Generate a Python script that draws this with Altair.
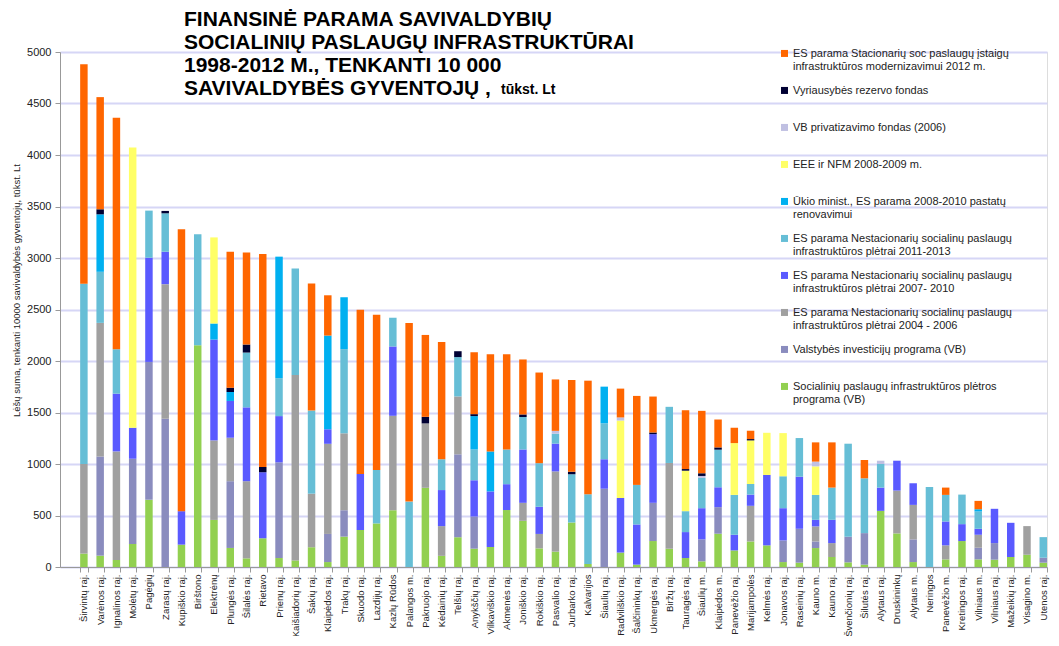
import altair as alt
import pandas as pd

municipalities = [
    "Širvintų raj.", "Varėnos raj.", "Ignalinos raj.", "Molėtų raj.", "Pagėgių", "Zarasų raj.",
    "Kupiškio raj.", "Birštono", "Elektrėnų", "Plungės raj.", "Šilalės raj.", "Rietavo",
    "Prienų raj.", "Kaišiadorių raj.", "Šakių raj.", "Klaipėdos raj.", "Trakų raj.", "Skuodo raj.",
    "Lazdijų raj.", "Kazlų Rūdos", "Palangos m.", "Pakruojo raj.", "Kėdainių raj.", "Telšių raj.",
    "Anykščių raj.", "Vilkaviškio raj.", "Akmenės raj.", "Joniškio raj.", "Rokiškio raj.", "Pasvalio raj.",
    "Jurbarko raj.", "Kalvarijos", "Šiaulių raj.", "Radviliškio raj.", "Šalčininkų raj.", "Ukmergės raj.",
    "Biržų raj.", "Tauragės raj.", "Šiaulių m.", "Klaipėdos m.", "Panevėžio raj.", "Marijampolės",
    "Kelmės raj.", "Jonavos raj.", "Raseinių raj.", "Kauno m.", "Kauno raj.", "Švenčionių raj.",
    "Šilutės raj.", "Alytaus raj.", "Druskininkų", "Alytaus m.", "Neringos", "Panevėžio m.",
    "Kretingos raj.", "Vilniaus m.", "Vilniaus raj.", "Mažeikių raj.", "Visagino m.", "Utenos raj.",
]

# series, bottom to top of each stack
green = [130, 110, 68, 224, 652, 0, 217, 2153, 457, 185, 84, 279, 87, 64, 192, 48, 295, 359, 423, 551,
         0, 769, 108, 289, 178, 194, 553, 448, 181, 149, 432, 29, 0, 140, 23, 252, 177, 87, 55, 323,
         161, 248, 210, 48, 42, 184, 97, 45, 23, 545, 326, 48, 0, 74, 252, 74, 71, 97, 119, 42]
slate = [0, 963, 0, 827, 1339, 1440, 0, 0, 0, 648, 0, 0, 929, 0, 0, 273, 256, 0, 0, 0,
         0, 0, 0, 805, 312, 0, 0, 0, 0, 0, 0, 0, 760, 0, 0, 371, 0, 0, 213, 258,
         0, 0, 0, 210, 329, 64, 0, 249, 306, 0, 0, 220, 0, 0, 0, 113, 161, 0, 0, 48]
gray = [870, 1297, 1054, 0, 0, 1306, 0, 0, 772, 422, 749, 0, 0, 1801, 520, 875, 747, 0, 0, 917,
        0, 625, 289, 562, 0, 0, 0, 175, 140, 779, 0, 0, 0, 0, 0, 0, 833, 0, 0, 0,
        0, 346, 0, 0, 0, 146, 135, 0, 0, 0, 416, 335, 0, 136, 0, 126, 0, 0, 278, 0]
blue = [0, 0, 561, 301, 1012, 315, 325, 0, 979, 357, 717, 641, 449, 0, 0, 141, 0, 545, 0, 673,
        0, 0, 350, 0, 352, 540, 251, 518, 264, 270, 0, 0, 286, 530, 390, 667, 0, 252, 303, 193,
        152, 109, 684, 313, 506, 64, 226, 0, 0, 226, 290, 210, 0, 232, 164, 58, 333, 332, 0, 0]
teal = [1750, 496, 431, 0, 457, 373, 0, 1077, 0, 0, 532, 0, 368, 1032, 807, 0, 817, 0, 519, 279,
        635, 0, 299, 382, 299, 0, 337, 315, 423, 96, 468, 677, 349, 0, 384, 0, 545, 203, 294, 365,
        387, 103, 0, 310, 375, 242, 313, 903, 532, 229, 0, 0, 777, 258, 287, 168, 0, 0, 0, 200]
cyan = [0, 558, 0, 0, 0, 0, 0, 0, 156, 87, 0, 0, 1180, 0, 0, 910, 504, 0, 0, 0,
        0, 0, 0, 0, 324, 388, 0, 0, 0, 0, 0, 0, 356, 0, 0, 0, 0, 0, 0, 0,
        0, 0, 0, 0, 0, 0, 0, 0, 0, 0, 0, 0, 0, 0, 0, 22, 0, 0, 0, 0]
yellow = [0, 0, 0, 2721, 0, 0, 0, 0, 836, 0, 0, 0, 0, 0, 0, 0, 0, 0, 0, 0,
          0, 0, 0, 0, 0, 0, 0, 0, 0, 0, 0, 0, 0, 752, 0, 0, 0, 393, 0, 0,
          503, 423, 409, 419, 0, 277, 0, 0, 0, 0, 0, 0, 0, 0, 0, 0, 0, 0, 0, 0]
lavender = [0, 0, 0, 0, 0, 0, 0, 0, 0, 0, 0, 0, 0, 0, 0, 0, 0, 0, 0, 0,
            0, 0, 0, 0, 0, 0, 0, 0, 0, 28, 0, 0, 0, 30, 0, 0, 0, 0, 19, 0,
            0, 0, 0, 0, 0, 46, 0, 0, 0, 32, 0, 0, 0, 0, 0, 0, 0, 0, 0, 0]
navy = [0, 49, 0, 0, 0, 23, 0, 0, 0, 42, 78, 51, 0, 0, 0, 0, 0, 0, 0, 0,
        0, 64, 0, 57, 19, 0, 0, 25, 0, 0, 25, 0, 0, 0, 0, 16, 0, 16, 26, 22,
        0, 13, 0, 0, 0, 0, 0, 0, 0, 0, 0, 0, 0, 0, 0, 0, 0, 0, 0, 0]
orange = [2130, 1089, 2247, 0, 0, 0, 2736, 0, 0, 1320, 894, 2067, 0, 0, 1234, 391, 0, 1593, 1507, 0,
          1734, 795, 1138, 0, 601, 944, 925, 534, 880, 499, 890, 1103, 0, 280, 864, 349, 0, 571, 606, 271,
          149, 81, 0, 0, 0, 187, 439, 0, 178, 0, 0, 0, 0, 71, 0, 81, 0, 0, 0, 0]

series_labels = [
    "Socialinių paslaugų infrastruktūros plėtros|programa (VB)",
    "Valstybės investicijų programa (VB)",
    "ES parama Nestacionarių socialinų paslaugų|infrastruktūros plėtrai 2004 - 2006",
    "ES parama Nestacionarių socialinų paslaugų|infrastruktūros plėtrai  2007- 2010",
    " ES parama Nestacionarių socialinų paslaugų|infrastruktūros plėtrai 2011-2013",
    "Ūkio minist., ES parama 2008-2010 pastatų|renovavimui",
    "EEE ir NFM 2008-2009 m.",
    "VB privatizavimo fondas (2006)",
    "Vyriausybės rezervo fondas",
    "ES parama Stacionarių soc paslaugų įstaigų|infrastruktūros modernizavimui 2012 m.",
]
series_colors = ["#92D050", "#8A8CBE", "#A0A0A0", "#5A5AFF", "#66BED6",
                 "#00B0F0", "#FFFF66", "#C0C0E2", "#000033", "#FF6600"]
series_values = [green, slate, gray, blue, teal, cyan, yellow, lavender, navy, orange]

rows = []
for k, (lab, vals) in enumerate(zip(series_labels, series_values)):
    for m, v in zip(municipalities, vals):
        if v > 0:
            rows.append({"sav": m, "serija": lab, "k": k, "v": v})
df = pd.DataFrame(rows)

FONT = "Liberation Sans"
PLOT_H = 515

bars = alt.Chart(df).mark_bar().encode(
    x=alt.X("sav:N", sort=municipalities,
            scale=alt.Scale(paddingInner=0.54, paddingOuter=0.62, align=1),
            axis=alt.Axis(title=None, labelAngle=-90, labelFontSize=9.5, labelColor="#222",
                          labelPadding=2, tickSize=5, tickBand="extent", domainColor="#999",
                          tickColor="#999", labelOverlap=False, labelLimit=200, grid=False)),
    y=alt.Y("v:Q", stack="zero", scale=alt.Scale(domain=[0, 5000], nice=False),
            axis=alt.Axis(values=list(range(0, 5001, 500)), format="d", grid=True,
                          gridColor="#D6D6F6", gridWidth=2, domainColor="#999",
                          tickColor="#999", tickSize=5,
                          labelFontSize=11, labelColor="#222", labelPadding=4,
                          title="Lėšų suma, tenkanti 10000 savivaldybės gyventojų, tūkst. Lt",
                          titleFontSize=9.5, titleFontWeight="normal", titleColor="#222",
                          titlePadding=5, titleY=238)),
    color=alt.Color("serija:N",
                    scale=alt.Scale(domain=series_labels[::-1], range=series_colors[::-1]),
                    legend=alt.Legend(title=None, orient="none", legendX=719, legendY=-10,
                                      direction="vertical", padding=0,
                                      labelExpr="split(datum.label, '|')",
                                      labelFont=FONT, labelFontSize=11, labelColor="#222",
                                      labelLimit=400, labelBaseline="top", labelOffset=3,
                                      symbolType="M-1,0.7H1V2.7H-1Z", symbolSize=49,
                                      symbolStrokeWidth=0, rowPadding=7, gridAlign="all")),
    order=alt.Order("k:Q", sort="ascending"),
)


def text_line(txt, x, y, size):
    return alt.Chart(pd.DataFrame({"t": [txt]})).mark_text(
        align="left", baseline="middle", font=FONT, fontWeight="bold",
        fontSize=size, color="black"
    ).encode(x=alt.value(x), y=alt.value(y), text="t:N")


title_lines = [
    "FINANSINĖ PARAMA  SAVIVALDYBIŲ",
    "SOCIALINIŲ PASLAUGŲ INFRASTRUKTŪRAI",
    "1998-2012 M., TENKANTI 10 000",
    "SAVIVALDYBĖS  GYVENTOJŲ ,",
]
title_y = [-32, -9, 14, 37]
layers = [bars]
for t, yy in zip(title_lines, title_y):
    layers.append(text_line(t, 124, yy, 21))
layers.append(text_line("tūkst. Lt", 441, 38, 14))

chart = alt.layer(*layers).properties(
    width=987, height=PLOT_H,
    padding={"left": 52, "top": 44, "right": 4, "bottom": 69},
    autosize=alt.AutoSizeParams(type="none"),
    background="white",
).configure_view(stroke=None).configure(font=FONT)

chart.save("out.html", embed_options={"renderer": "svg", "actions": False})
